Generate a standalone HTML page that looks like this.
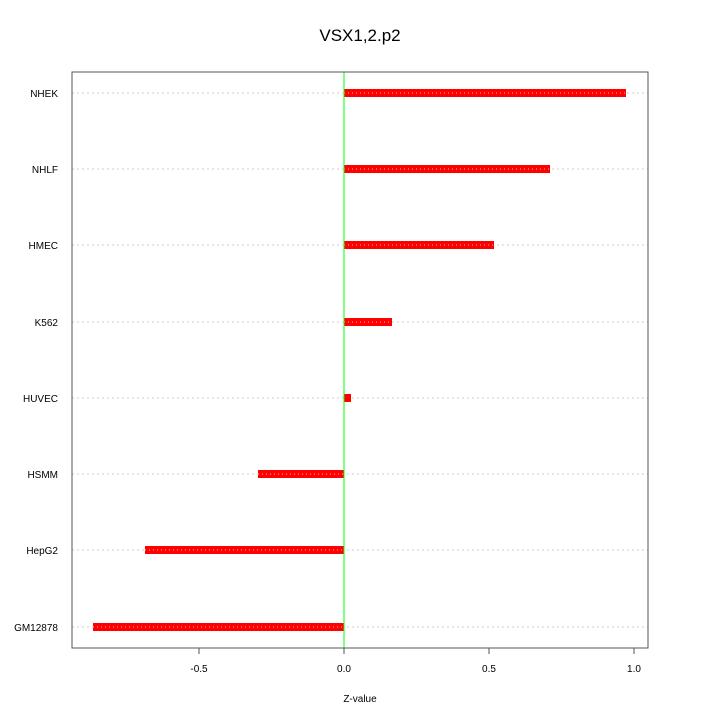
<!DOCTYPE html><html><head><style>body{margin:0;background:#fff}</style></head><body>
<svg width="720" height="720" xmlns="http://www.w3.org/2000/svg" font-family="Liberation Sans, sans-serif">
<rect width="720" height="720" fill="#fff"/>
<text x="360" y="41" text-anchor="middle" font-size="17">VSX1,2.p2</text>
<g stroke="#ccc" stroke-dasharray="2,3" stroke-width="1">
<line x1="72" x2="648" y1="93" y2="93"/><line x1="72" x2="648" y1="169" y2="169"/>
<line x1="72" x2="648" y1="245" y2="245"/><line x1="72" x2="648" y1="322" y2="322"/>
<line x1="72" x2="648" y1="398" y2="398"/><line x1="72" x2="648" y1="474" y2="474"/>
<line x1="72" x2="648" y1="550" y2="550"/><line x1="72" x2="648" y1="627" y2="627"/>
</g>
<g fill="#f00">
<rect x="344" y="89" width="282" height="8"/><rect x="344" y="165" width="206" height="8"/>
<rect x="344" y="241" width="150" height="8"/><rect x="344" y="318" width="48" height="8"/>
<rect x="344" y="394" width="7" height="8"/><rect x="258" y="470" width="86" height="8"/>
<rect x="145" y="546" width="199" height="8"/><rect x="93" y="623" width="251" height="8"/>
</g>
<g stroke="#fff" stroke-dasharray="1,3" stroke-width="1" opacity="0.7">
<line x1="344" x2="626" y1="93" y2="93"/><line x1="344" x2="550" y1="169" y2="169"/>
<line x1="344" x2="494" y1="245" y2="245"/><line x1="344" x2="392" y1="322" y2="322"/>
<line x1="258" x2="344" y1="474" y2="474"/><line x1="145" x2="344" y1="550" y2="550"/>
<line x1="93" x2="344" y1="627" y2="627"/>
</g>
<line x1="344" x2="344" y1="72" y2="648" stroke="#0f0" stroke-width="1"/>
<rect x="72" y="72" width="576" height="576" fill="none" stroke="#555" stroke-width="1"/>
<g stroke="#555"><line x1="72" x2="72" y1="72" y2="648"/></g>
<g font-size="10" text-anchor="end">
<text x="58" y="97">NHEK</text><text x="58" y="173">NHLF</text><text x="58" y="249">HMEC</text>
<text x="58" y="326">K562</text><text x="58" y="402">HUVEC</text><text x="58" y="478">HSMM</text>
<text x="58" y="554">HepG2</text><text x="58" y="631">GM12878</text>
</g>
<g stroke="#555"><line x1="199" x2="199" y1="648" y2="654"/><line x1="344" x2="344" y1="648" y2="654"/><line x1="489" x2="489" y1="648" y2="654"/><line x1="634" x2="634" y1="648" y2="654"/></g>
<g font-size="10" text-anchor="middle">
<text x="199" y="672">-0.5</text><text x="344" y="672">0.0</text><text x="489" y="672">0.5</text><text x="634" y="672">1.0</text>
<text x="360" y="702">Z-value</text>
</g>
</svg></body></html>
